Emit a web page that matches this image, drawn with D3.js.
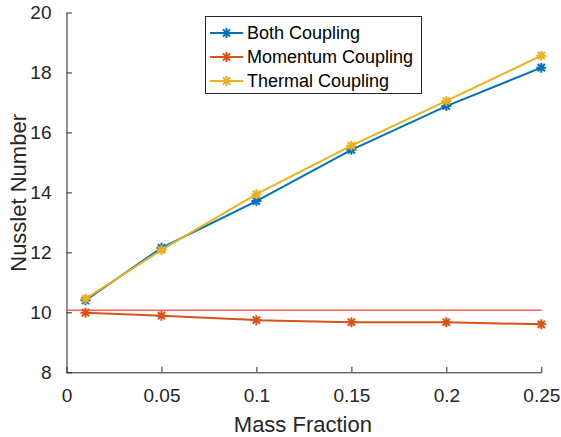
<!DOCTYPE html>
<html>
<head>
<meta charset="utf-8">
<script src="https://cdn.jsdelivr.net/npm/d3@7"></script>
<style>
  html, body { margin: 0; padding: 0; background: #fff; }
  svg { display: block; font-family: "Liberation Sans", Arial, Helvetica, sans-serif; }
</style>
</head>
<body>
<svg id="chart" width="561" height="437"></svg>
<script>
// Mass fraction values on the x axis
const massFraction = [0.01, 0.05, 0.1, 0.15, 0.2, 0.25];

// Nusselt number for each coupling mode
const bothCoupling     = [10.40, 12.15, 13.71, 15.42, 16.88, 18.16];
const momentumCoupling = [9.99, 9.89, 9.74, 9.67, 9.67, 9.60];
const thermalCoupling  = [10.45, 12.08, 13.94, 15.56, 17.05, 18.56];

// Single-phase reference level
const referenceLevel = 10.07;

const seriesNames = ["Both Coupling", "Momentum Coupling", "Thermal Coupling"];
const seriesColors = ["#0072BD", "#D95319", "#EDB120"];

const xTicks = [0, 0.05, 0.1, 0.15, 0.2, 0.25];
const xTickLabels = ["0", "0.05", "0.1", "0.15", "0.2", "0.25"];
const yTicks = [8, 10, 12, 14, 16, 18, 20];

const svg = d3.select("#chart");
const plotLeft = 66.5, plotRight = 541.3, plotTop = 12.5, plotBottom = 372.3;

const x = d3.scaleLinear().domain([0, 0.25]).range([plotLeft, plotRight]);
const y = d3.scaleLinear().domain([8, 20]).range([plotBottom, plotTop]);

const axisColor = "#262626";

// Axes with inward ticks
const xAxis = svg.append("g")
  .attr("transform", `translate(0,${plotBottom})`)
  .call(d3.axisBottom(x).tickValues(xTicks)
    .tickFormat((d, i) => xTickLabels[i])
    .tickSizeInner(-5.5).tickSizeOuter(0).tickPadding(16));
const yAxis = svg.append("g")
  .attr("transform", `translate(${plotLeft},0)`)
  .call(d3.axisLeft(y).tickValues(yTicks)
    .tickSizeInner(-5.5).tickSizeOuter(0).tickPadding(15));

[xAxis, yAxis].forEach(g => {
  g.select(".domain").attr("stroke", axisColor).attr("stroke-width", 1);
  g.selectAll(".tick line").attr("stroke", axisColor).attr("stroke-width", 1);
  g.selectAll(".tick text").attr("fill", axisColor)
    .style("font-size", "19px")
    .style("font-family", "'Liberation Sans', Arial, sans-serif");
});
xAxis.selectAll(".tick text").attr("dy", "0.71em").attr("y", 16);

// Axis titles
svg.append("text")
  .attr("x", (plotLeft + plotRight) / 2 - 1).attr("y", 432)
  .attr("text-anchor", "middle")
  .attr("fill", axisColor)
  .style("font-size", "22px")
  .text("Mass Fraction");

svg.append("text")
  .attr("transform", `translate(26,${(plotTop + plotBottom) / 2 + 0.5}) rotate(-90)`)
  .attr("text-anchor", "middle")
  .attr("fill", axisColor)
  .style("font-size", "22px")
  .text("Nusslet Number");

// Asterisk marker path ("*" = plus combined with a cross)
function asterisk(r) {
  const d = r * 0.72;
  return `M${-r},0L${r},0M0,${-r}L0,${r}` +
         `M${-d},${-d}L${d},${d}M${-d},${d}L${d},${-d}`;
}

const allSeries = [bothCoupling, momentumCoupling, thermalCoupling];
const line = d3.line().x((d, i) => x(massFraction[i])).y(d => y(d));

allSeries.forEach((vals, k) => {
  const g = svg.append("g");
  g.append("path")
    .datum(vals)
    .attr("d", line)
    .attr("fill", "none")
    .attr("stroke", seriesColors[k])
    .attr("stroke-width", 2);
  g.selectAll("path.mk")
    .data(vals)
    .enter().append("path")
    .attr("class", "mk")
    .attr("transform", (d, i) => `translate(${x(massFraction[i])},${y(d)})`)
    .attr("d", asterisk(5))
    .attr("fill", "none")
    .attr("stroke", seriesColors[k])
    .attr("stroke-width", 2);
});

// Reference line
svg.append("line")
  .attr("x1", x(0)).attr("x2", x(0.25))
  .attr("y1", y(referenceLevel)).attr("y2", y(referenceLevel))
  .attr("stroke", "#ff4040")
  .attr("stroke-opacity", 0.85)
  .attr("stroke-width", 1.5);

// Legend
const legend = svg.append("g");
legend.append("rect")
  .attr("x", 205.5).attr("y", 16.5)
  .attr("width", 216).attr("height", 77)
  .attr("fill", "#fff")
  .attr("stroke", axisColor)
  .attr("stroke-width", 1);

seriesNames.forEach((name, k) => {
  const cy = 33 + k * 24;
  legend.append("line")
    .attr("x1", 210).attr("x2", 243)
    .attr("y1", cy).attr("y2", cy)
    .attr("stroke", seriesColors[k]).attr("stroke-width", 2);
  legend.append("path")
    .attr("transform", `translate(226.5,${cy})`)
    .attr("d", asterisk(5))
    .attr("fill", "none")
    .attr("stroke", seriesColors[k]).attr("stroke-width", 2);
  legend.append("text")
    .attr("x", 247).attr("y", cy)
    .attr("dy", "0.35em")
    .attr("fill", "#000")
    .style("font-size", "18px")
    .text(name);
});
</script>
</body>
</html>
